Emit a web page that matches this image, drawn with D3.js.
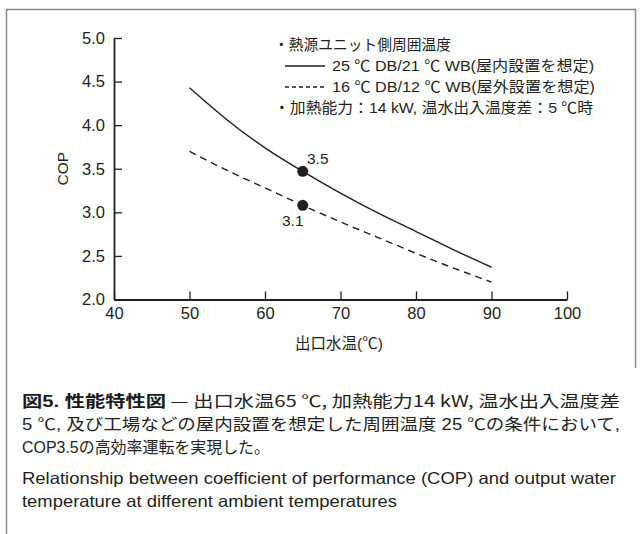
<!DOCTYPE html>
<html>
<head>
<meta charset="utf-8">
<script src="https://cdn.jsdelivr.net/npm/d3@7"></script>
<style>
  html, body { margin: 0; padding: 0; background: #fff; }
  svg { display: block; }
  text { font-family: "Liberation Sans", "Noto Sans CJK JP", sans-serif; fill: #231f20; }
</style>
</head>
<body>
<svg id="chart" width="643" height="534"></svg>
<script>
// outlet water temperature (°C) and COP
const temps = [50, 55, 60, 65, 70, 75, 80, 85, 90];
const copIndoor = [4.43, 4.06, 3.74, 3.47, 3.22, 2.99, 2.78, 2.57, 2.37];
const copOutdoor = [3.70, 3.48, 3.28, 3.08, 2.89, 2.71, 2.53, 2.36, 2.20];

const markerTemps = [65, 65];
const markerCop = [3.47, 3.08];
const markerLabels = ['3.5', '3.1'];

const xTicks = [40, 50, 60, 70, 80, 90, 100];
const yTicks = [2.0, 2.5, 3.0, 3.5, 4.0, 4.5, 5.0];

const legendLines = [
  '・熱源ユニット側周囲温度',
  '25 ℃ DB/21 ℃ WB(屋内設置を想定)',
  '16 ℃ DB/12 ℃ WB(屋外設置を想定)',
  '・加熱能力：14 kW, 温水出入温度差：5 ℃時'
];

const svg = d3.select('#chart');

// frame
svg.append('path')
  .attr('d', 'M6.5,534V9.5H635.5V368')
  .attr('fill', 'none')
  .attr('stroke', '#8a8a8a')
  .attr('stroke-width', 1.5);

const x = d3.scaleLinear().domain([40, 100]).range([114, 567]);
const y = d3.scaleLinear().domain([2, 5]).range([299.5, 38]);

const xAxis = svg.append('g')
  .attr('transform', `translate(0,${y(2)})`)
  .call(d3.axisBottom(x).tickValues(xTicks).tickSize(-8).tickSizeOuter(0).tickPadding(8));

const yAxis = svg.append('g')
  .attr('transform', `translate(${x(40)},0)`)
  .call(d3.axisLeft(y).tickValues(yTicks).tickFormat(d3.format('.1f'))
    .tickSize(-8).tickSizeOuter(0).tickPadding(9));

[xAxis, yAxis].forEach(function(g) {
  g.select('.domain').attr('stroke', '#231f20').attr('stroke-width', 1.8);
  g.selectAll('.tick line').attr('stroke', '#231f20').attr('stroke-width', 1.3);
  g.selectAll('.tick text')
    .attr('font-family', '"Liberation Sans", sans-serif')
    .attr('font-size', 16.5)
    .attr('fill', '#231f20');
});

svg.append('text')
  .attr('transform', `translate(68,${y(3.5)}) rotate(-90)`)
  .attr('text-anchor', 'middle')
  .attr('font-size', 15.5)
  .text('COP');

svg.append('text')
  .attr('x', 339)
  .attr('y', 349)
  .attr('text-anchor', 'middle')
  .attr('font-size', 15.5)
  .text('出口水温(℃)');

// curves
const line = d3.line()
  .x(function(d, i) { return x(temps[i]); })
  .y(function(d) { return y(d); })
  .curve(d3.curveNatural);

svg.append('path')
  .attr('d', line(copIndoor))
  .attr('fill', 'none')
  .attr('stroke', '#231f20')
  .attr('stroke-width', 1.4);

svg.append('path')
  .attr('d', line(copOutdoor))
  .attr('fill', 'none')
  .attr('stroke', '#231f20')
  .attr('stroke-width', 1.4)
  .attr('stroke-dasharray', '7,5');

// highlighted points
svg.selectAll('circle.pt')
  .data(markerCop)
  .enter().append('circle')
  .attr('class', 'pt')
  .attr('cx', function(d, i) { return x(markerTemps[i]); })
  .attr('cy', function(d) { return y(d); })
  .attr('r', 5.5)
  .attr('fill', '#231f20');

svg.selectAll('text.pt')
  .data(markerLabels)
  .enter().append('text')
  .attr('class', 'pt')
  .attr('x', function(d, i) { return x(markerTemps[i]) + (i === 0 ? 15 : -10); })
  .attr('y', function(d, i) { return y(markerCop[i]) + (i === 0 ? -7 : 21); })
  .attr('text-anchor', 'middle')
  .attr('font-size', 15.5)
  .text(function(d) { return d; });

// legend
const legendX = [274, 332, 332, 274];
const legendRight = [451, 594, 595, 593];
const legendY = [50, 71, 92, 113];

svg.selectAll('text.leg')
  .data(legendLines)
  .enter().append('text')
  .attr('class', 'leg')
  .attr('x', function(d, i) { return legendX[i]; })
  .attr('y', function(d, i) { return legendY[i]; })
  .attr('font-size', 15)
  .attr('textLength', function(d, i) { return legendRight[i] - legendX[i]; })
  .attr('lengthAdjust', 'spacingAndGlyphs')
  .text(function(d) { return d; });

svg.append('line')
  .attr('x1', 285).attr('x2', 325)
  .attr('y1', legendY[1] - 5).attr('y2', legendY[1] - 5)
  .attr('stroke', '#231f20').attr('stroke-width', 1.3);

svg.append('line')
  .attr('x1', 285).attr('x2', 326)
  .attr('y1', legendY[2] - 5).attr('y2', legendY[2] - 5)
  .attr('stroke', '#231f20').attr('stroke-width', 1.3)
  .attr('stroke-dasharray', '4,3');

// caption
const cap1 = svg.append('text')
  .attr('x', 22).attr('y', 407)
  .attr('font-size', 16)
  .attr('textLength', 598)
  .attr('lengthAdjust', 'spacingAndGlyphs');
cap1.append('tspan').attr('font-weight', 'bold').attr('fill', '#1a1a1a').text('図5.  性能特性図');
cap1.append('tspan').attr('font-family', '"Noto Sans CJK JP", "DejaVu Serif", serif')
  .text(' — 出口水温65 ℃, 加熱能力14 kW, 温水出入温度差');

svg.append('text')
  .attr('x', 22).attr('y', 430)
  .attr('font-size', 16)
  .attr('font-family', '"Noto Sans CJK JP", serif')
  .attr('textLength', 598)
  .attr('lengthAdjust', 'spacingAndGlyphs')
  .text('5 ℃, 及び工場などの屋内設置を想定した周囲温度 25 ℃の条件において,');

svg.append('text')
  .attr('x', 22).attr('y', 453)
  .attr('font-size', 16)
  .attr('font-family', '"Noto Sans CJK JP", serif')
  .attr('textLength', 248)
  .attr('lengthAdjust', 'spacingAndGlyphs')
  .text('COP3.5の高効率運転を実現した。');

svg.append('text')
  .attr('x', 22).attr('y', 484)
  .attr('font-size', 16.5)
  .attr('textLength', 594)
  .attr('lengthAdjust', 'spacingAndGlyphs')
  .text('Relationship between coefficient of performance (COP) and output water');

svg.append('text')
  .attr('x', 22).attr('y', 507)
  .attr('font-size', 16.5)
  .attr('textLength', 375)
  .attr('lengthAdjust', 'spacingAndGlyphs')
  .text('temperature at different ambient temperatures');
</script>
</body>
</html>
